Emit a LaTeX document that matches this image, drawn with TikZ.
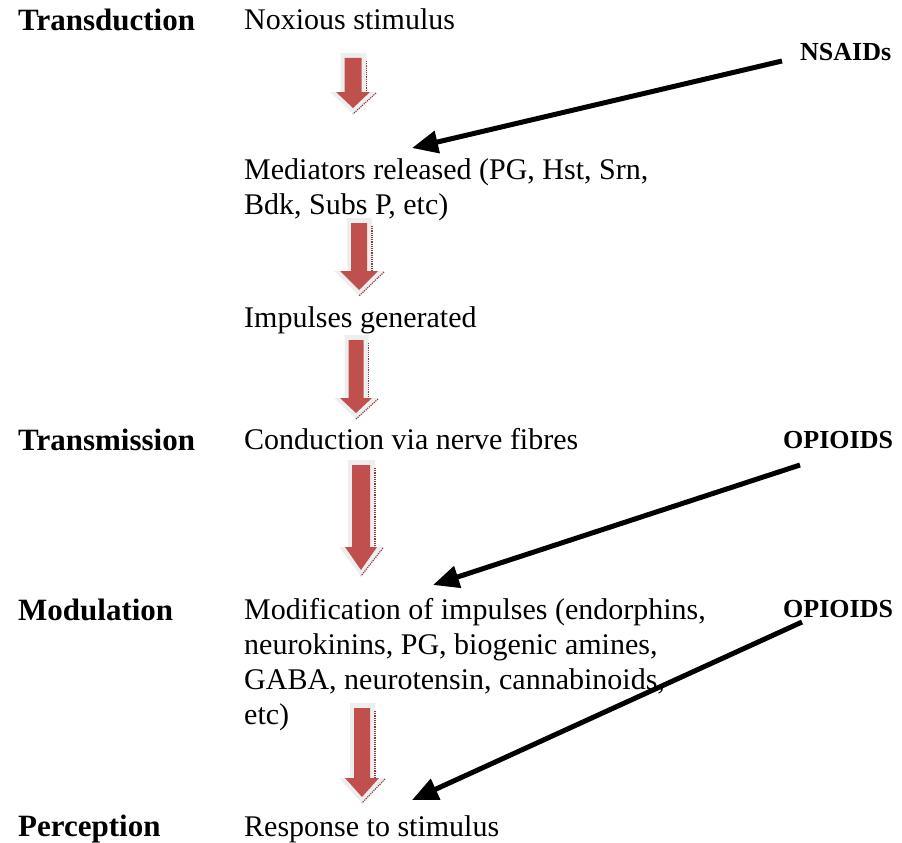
\documentclass[tikz,border=0pt]{standalone}
\usepackage{fontspec}
\setmainfont{Liberation Serif}
\usetikzlibrary{arrows.meta}
\definecolor{arrred}{RGB}{192,80,77}
\definecolor{arrdot}{RGB}{140,60,60}
\definecolor{shadowgray}{RGB}{238,238,238}
\newcommand\blockarrow[6]{%
  % #1 cx, #2 top, #3 head start, #4 tip, #5 half shaft, #6 half head
  \fill[shadowgray] (#1-#5-4,#2-5) -- (#1+#5+5,#2-5) -- (#1+#5+5,#3) -- (#1+#6+6,#3) -- (#1,#4+6) -- (#1-#6-6,#3) -- (#1-#5-4,#3) -- cycle;
  \draw[arrdot,densely dotted,line width=1.2pt] (#1+#5+5,#2+3) -- (#1+#5+5,#3);
  \draw[arrdot,densely dotted,line width=1.2pt] (#1+#6+6,#3+1) -- (#1,#4+6);
  \fill[arrred] (#1-#5,#2) -- (#1+#5,#2) -- (#1+#5,#3) -- (#1+#6,#3) -- (#1,#4) -- (#1-#6,#3) -- (#1-#5,#3) -- cycle;
}
\tikzset{
  stage/.style={anchor=base west,inner sep=0pt,font=\fontsize{31}{35}\selectfont\bfseries},
  txt/.style={anchor=base west,inner sep=0pt,align=left,font=\fontsize{30}{35}\selectfont},
  drug/.style={anchor=base west,inner sep=0pt,font=\fontsize{26}{30}\selectfont\bfseries},
  blk/.style={line width=5pt,-{Triangle[length=26pt,width=22pt]}}
}
\begin{document}
\begin{tikzpicture}[x=1pt,y=-1pt]
\useasboundingbox (0,0) rectangle (902,843);
% stage labels
\node[stage] (transd) at (18,31) {Transduction};
\node[stage] (transm) at (18,450) {Transmission};
\node[stage] (modul) at (18,620) {Modulation};
\node[stage] (perc) at (18,836) {Perception};
% texts (multi-line nodes are placed by the baseline of their last line)
\node[txt] (nox) at (244,30) {Noxious stimulus};
\node[txt] (med) at (244,214) {Mediators released (PG, Hst, Srn,\\Bdk, Subs P, etc)};
\node[txt] (imp) at (244,327) {Impulses generated};
\node[txt] (cond) at (244,449) {Conduction via nerve fibres};
\node[txt] (mod) at (244,724) {Modification of impulses (endorphins,\\neurokinins, PG, biogenic amines,\\GABA, neurotensin, cannabinoids,\\etc)};
\node[txt] (resp) at (244,836) {Response to stimulus};
% drugs
\node[drug] (nsaid) at (800,60) {NSAIDs};
\node[drug] (op1) at (783,448) {OPIOIDS};
\node[drug] (op2) at (783,617) {OPIOIDS};
% red block arrows
\blockarrow{353}{58}{92}{108}{8.5}{17}
\blockarrow{359}{223}{271}{290}{8}{19}
\blockarrow{356}{340}{398}{413}{7.5}{16}
\blockarrow{361}{465}{547}{570}{9}{16}
\blockarrow{362}{708}{778}{797}{8}{17}
% black arrows
\coordinate (s1) at (782,61);
\coordinate (t1) at (412,148);
\coordinate (s2) at (800,465);
\coordinate (t2) at (433,585);
\coordinate (s3) at (802,622);
\coordinate (t3) at (412,800);
\draw[blk] (s1) -- (t1);
\draw[blk] (s2) -- (t2);
\draw[blk] (s3) -- (t3);
\end{tikzpicture}
\end{document}
